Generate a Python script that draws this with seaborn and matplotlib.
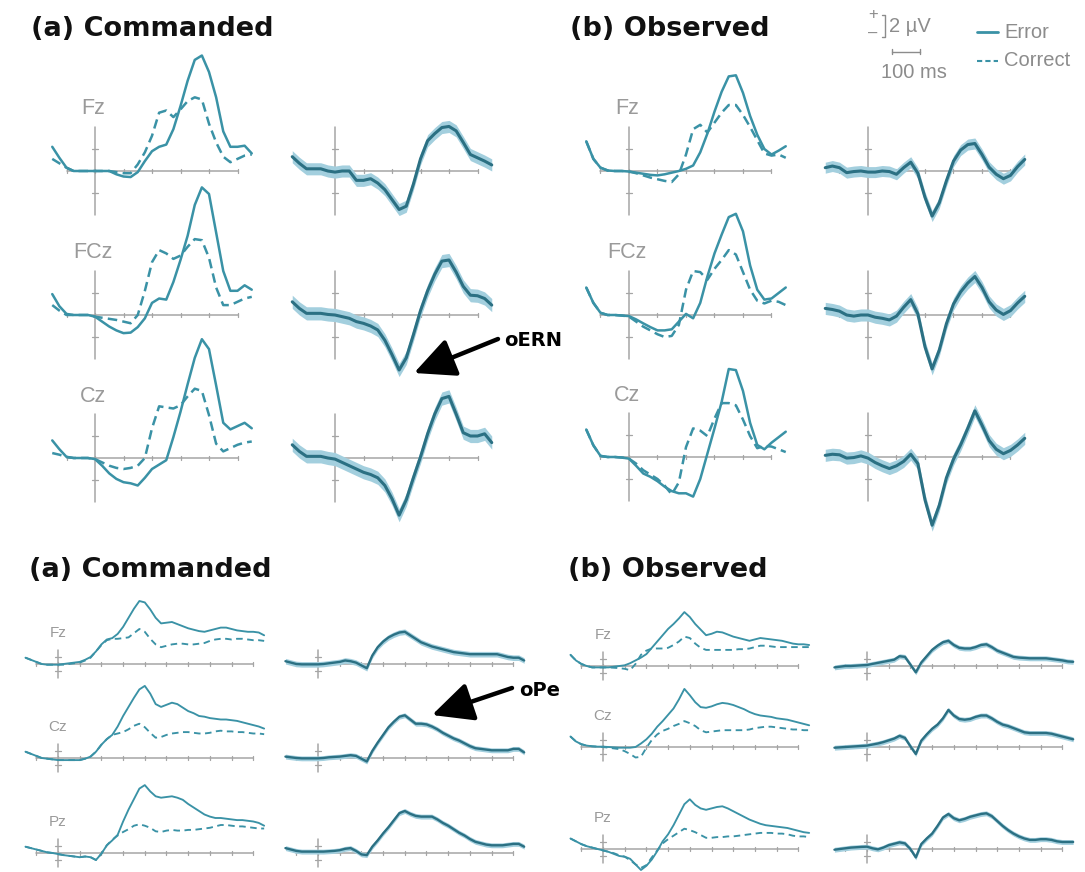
import matplotlib
matplotlib.use("Agg")
import matplotlib.pyplot as plt
from matplotlib.lines import Line2D
from matplotlib.patches import FancyArrowPatch
import pandas as pd
import seaborn as sns

# ---------------- data (uV) ----------------
# oERN study: time grid in ms
t_ern = [-150, -125, -100, -75, -50, -25, 0, 25, 50, 75, 100, 125, 150, 175, 200,
         225, 250, 275, 300, 325, 350, 375, 400, 425, 450, 475, 500, 525, 550]

cmd_fz_err = [2.2, 1.2, 0.3, 0.0, 0.0, 0.0, 0.0, 0.0, 0.0, -0.3, -0.5, -0.55, -0.1, 0.9, 1.8,
              2.2, 2.4, 3.8, 5.9, 8.2, 10.1, 10.5, 9.0, 6.7, 3.6, 2.2, 2.2, 2.3, 1.6]
cmd_fz_cor = [1.1, 0.7, 0.3, 0.0, 0.0, 0.0, 0.0, 0.0, 0.0, -0.1, -0.2, -0.2, 0.6, 1.7, 3.2,
              5.3, 5.5, 4.9, 5.6, 6.35, 6.7, 6.5, 4.3, 2.6, 1.3, 0.8, 1.1, 1.4, 1.5]
cmd_fz_diff = [1.3, 0.7, 0.2, 0.2, 0.2, 0.0, -0.1, 0.0, 0.0, -0.85, -0.85, -0.7, -1.1, -1.7, -2.6,
               -3.5, -3.2, -1.2, 1.1, 2.75, 3.4, 3.95, 4.05, 3.65, 2.6, 1.5, 1.2, 0.9, 0.55]
cmd_fcz_err = [1.9, 0.8, 0.1, 0.0, 0.0, 0.0, -0.15, -0.6, -1.05, -1.4, -1.65, -1.6, -1.1, -0.3, 1.1,
               1.5, 1.4, 3.0, 5.0, 7.2, 10.0, 11.6, 11.0, 7.5, 4.0, 2.2, 2.2, 2.7, 2.3]
cmd_fcz_cor = [0.9, 0.4, 0.0, 0.0, 0.0, 0.0, -0.15, -0.25, -0.35, -0.45, -0.6, -0.75, 0.0, 2.2, 4.8,
               5.9, 5.6, 5.1, 5.4, 6.2, 6.9, 6.8, 5.2, 2.5, 0.9, 0.9, 1.2, 1.5, 1.65]
cmd_fcz_diff = [1.2, 0.6, 0.15, 0.15, 0.15, 0.05, 0.0, -0.15, -0.3, -0.6, -0.76, -1.0, -1.36, -2.3, -3.6,
                -5.0, -3.9, -1.8, 0.4, 2.2, 3.7, 4.9, 5.0, 3.9, 2.6, 1.8, 1.75, 1.5, 0.9]
cmd_cz_err = [1.6, 0.8, 0.1, 0.0, 0.0, 0.0, -0.1, -0.7, -1.4, -1.9, -2.2, -2.3, -2.5, -1.8, -1.0,
              -0.6, -0.2, 1.9, 4.2, 6.7, 9.1, 10.8, 9.9, 6.6, 3.2, 2.6, 2.9, 3.2, 2.7]
cmd_cz_cor = [0.45, 0.3, 0.1, 0.0, 0.0, 0.0, -0.1, -0.4, -0.7, -0.9, -1.0, -0.9, -0.7, 0.0, 2.7,
              4.7, 4.6, 4.5, 4.8, 5.6, 6.3, 6.1, 3.9, 1.3, 0.6, 0.9, 1.2, 1.4, 1.5]
cmd_cz_diff = [1.2, 0.6, 0.15, 0.15, 0.15, 0.0, -0.1, -0.4, -0.7, -1.0, -1.3, -1.5, -1.8, -2.5, -3.7,
               -5.2, -3.8, -1.8, 0.1, 2.2, 4.0, 5.4, 5.6, 4.0, 2.3, 2.0, 2.0, 2.2, 1.4]

obs_fz_err = [2.7, 1.1, 0.3, 0.05, 0.0, 0.0, -0.05, -0.15, -0.25, -0.35, -0.4, -0.3, -0.15, 0.0, 0.2,
              0.5, 1.7, 3.4, 5.4, 7.2, 8.6, 8.7, 7.1, 5.0, 3.3, 2.0, 1.5, 1.85, 2.25]
obs_fz_cor = [2.7, 1.1, 0.3, 0.05, 0.0, 0.0, -0.05, -0.2, -0.4, -0.6, -0.75, -0.9, -1.0, -0.3, 1.5,
              3.8, 4.2, 3.5, 4.4, 5.3, 6.0, 6.0, 5.1, 4.0, 2.8, 1.6, 1.4, 1.5, 1.2]
obs_fz_diff = [0.3, 0.45, 0.3, -0.15, -0.05, 0.0, -0.1, -0.1, 0.0, -0.05, -0.3, 0.3, 0.8, -0.2, -2.4,
               -4.1, -2.9, -0.9, 0.9, 1.9, 2.4, 2.5, 1.5, 0.35, -0.3, -0.7, -0.4, 0.4, 1.05]
obs_fcz_err = [2.5, 1.1, 0.2, 0.0, 0.0, -0.05, -0.1, -0.4, -0.76, -1.1, -1.4, -1.4, -1.3, -0.6, 0.1,
               -0.3, 1.1, 3.5, 5.6, 7.3, 8.9, 9.2, 7.6, 4.5, 2.3, 1.4, 1.5, 2.0, 2.5]
obs_fcz_cor = [2.5, 1.1, 0.2, 0.0, 0.0, -0.05, -0.15, -0.6, -1.06, -1.4, -1.75, -2.0, -1.9, -0.9, 2.3,
               4.0, 3.9, 3.2, 4.2, 5.0, 5.9, 5.5, 3.9, 2.3, 1.3, 1.05, 1.3, 1.2, 0.9]
obs_fcz_diff = [0.6, 0.5, 0.35, 0.0, -0.1, 0.0, 0.0, -0.2, -0.3, -0.45, -0.1, 0.7, 1.4, 0.1, -2.9,
                -4.9, -3.2, -0.8, 1.0, 2.1, 2.9, 3.5, 2.5, 1.2, 0.45, 0.05, 0.4, 1.1, 1.7]
obs_cz_err = [2.5, 1.06, 0.1, 0.0, 0.0, -0.05, -0.15, -0.8, -1.5, -1.8, -2.2, -2.7, -3.1, -3.3, -3.3,
              -3.6, -2.0, 0.3, 2.6, 5.0, 8.0, 7.9, 6.0, 3.1, 1.1, 0.7, 1.3, 1.8, 2.3]
obs_cz_cor = [2.5, 1.06, 0.1, 0.0, 0.0, -0.05, -0.15, -0.6, -1.2, -1.6, -2.0, -2.6, -3.4, -2.3, 0.9,
              2.6, 2.4, 1.9, 3.5, 4.9, 4.9, 4.7, 3.4, 1.9, 0.8, 1.0, 0.95, 0.7, 0.45]
obs_cz_diff = [0.15, 0.25, 0.2, -0.1, -0.05, 0.1, -0.1, -0.5, -0.8, -1.05, -0.8, -0.4, 0.25, -0.6, -3.9,
               -6.2, -4.4, -1.9, -0.2, 1.1, 2.6, 4.2, 2.9, 1.5, 0.7, 0.3, 0.6, 1.1, 1.7]

# oPe study: time grid in ms
t_pe = [-150, -125, -100, -75, -50, -25, 0, 25, 50, 75, 100, 125, 150, 175, 200, 225, 250,
        275, 300, 325, 350, 375, 400, 425, 450, 475, 500, 525, 550, 575, 600, 625, 650,
        675, 700, 725, 750, 775, 800, 825, 850, 875, 900, 925, 950]

cmdpe_fz_err = [0.9, 0.6, 0.3, 0.0, -0.1, -0.1, -0.1, 0.0, 0.1, 0.2, 0.3, 0.6, 1.0, 1.8, 2.8, 3.5, 3.7,
                4.3, 5.3, 6.6, 7.9, 9.0, 8.8, 7.8, 6.6, 5.8, 5.9, 6.0, 5.7, 5.4, 5.1, 4.9, 4.7,
                4.6, 4.8, 5.0, 5.2, 5.2, 5.0, 4.8, 4.7, 4.6, 4.6, 4.5, 4.1]
cmdpe_fz_cor = [0.9, 0.6, 0.3, 0.0, -0.1, -0.1, -0.1, -0.1, 0.0, 0.1, 0.2, 0.5, 0.9, 1.8, 2.7, 3.4, 3.6,
                3.6, 3.7, 3.8, 4.4, 5.0, 4.6, 3.6, 2.8, 2.4, 2.6, 2.8, 2.9, 2.9, 2.8, 2.8, 2.9,
                3.0, 3.3, 3.5, 3.6, 3.6, 3.5, 3.6, 3.6, 3.5, 3.4, 3.4, 3.3]
cmdpe_fz_diff = [0.4, 0.2, 0.0, -0.05, -0.05, -0.05, -0.05, 0.0, 0.1, 0.2, 0.3, 0.5, 0.4, 0.2, -0.2, -0.6, 1.2,
                 2.4, 3.2, 3.8, 4.2, 4.5, 4.6, 4.1, 3.6, 3.1, 2.8, 2.5, 2.3, 2.1, 1.9, 1.7, 1.6,
                 1.5, 1.4, 1.4, 1.4, 1.4, 1.4, 1.4, 1.2, 1.0, 0.9, 0.9, 0.5]
cmdpe_cz_err = [0.9, 0.6, 0.3, 0.0, -0.1, -0.2, -0.3, -0.3, -0.3, -0.3, -0.3, -0.1, 0.2, 0.9, 1.9, 2.7, 3.3,
                4.5, 6.0, 7.3, 8.6, 9.8, 10.3, 9.2, 7.7, 7.3, 7.6, 7.9, 7.7, 7.2, 6.7, 6.4, 6.0,
                5.9, 5.7, 5.6, 5.5, 5.5, 5.4, 5.3, 5.1, 4.9, 4.7, 4.5, 4.2]
cmdpe_cz_cor = [0.9, 0.6, 0.3, 0.0, -0.1, -0.2, -0.3, -0.3, -0.3, -0.3, -0.3, -0.1, 0.2, 0.9, 1.9, 2.7, 3.3,
                3.5, 3.7, 4.1, 4.6, 4.9, 4.4, 3.6, 2.9, 3.0, 3.3, 3.5, 3.6, 3.7, 3.7, 3.6, 3.5,
                3.5, 3.6, 3.8, 3.9, 3.8, 3.8, 3.7, 3.7, 3.6, 3.5, 3.5, 3.4]
cmdpe_cz_diff = [0.2, 0.1, 0.0, -0.05, -0.05, -0.05, -0.05, 0.0, 0.1, 0.15, 0.2, 0.3, 0.4, 0.3, -0.1, -0.5, 1.0,
                 2.2, 3.3, 4.4, 5.2, 5.9, 6.1, 5.5, 4.9, 4.9, 4.8, 4.5, 4.1, 3.6, 3.2, 2.8, 2.5,
                 2.1, 1.7, 1.4, 1.3, 1.2, 1.1, 1.1, 1.1, 1.1, 1.3, 1.3, 0.8]
cmdpe_pz_err = [0.9, 0.7, 0.5, 0.3, 0.1, 0.0, -0.15, -0.3, -0.4, -0.5, -0.6, -0.5, -0.6, -1.0, -0.1, 1.1, 1.8,
                2.6, 4.5, 6.2, 7.7, 9.2, 9.7, 8.8, 8.1, 7.9, 8.0, 8.1, 7.9, 7.6, 7.0, 6.5, 6.0,
                5.5, 5.2, 5.0, 5.0, 4.9, 4.8, 4.7, 4.7, 4.6, 4.5, 4.3, 3.9]
cmdpe_pz_cor = [0.9, 0.7, 0.5, 0.3, 0.1, 0.0, -0.15, -0.3, -0.4, -0.5, -0.6, -0.5, -0.6, -1.0, -0.1, 1.1, 1.9,
                2.5, 3.0, 3.4, 3.9, 4.1, 3.9, 3.6, 3.1, 3.0, 3.2, 3.3, 3.2, 3.2, 3.3, 3.3, 3.4,
                3.5, 3.6, 3.8, 4.0, 4.0, 3.9, 3.8, 3.8, 3.7, 3.6, 3.5, 3.5]
cmdpe_pz_diff = [0.7, 0.5, 0.3, 0.2, 0.2, 0.2, 0.2, 0.2, 0.25, 0.3, 0.4, 0.6, 0.7, 0.3, -0.2, -0.3, 0.9,
                 1.8, 2.8, 3.7, 4.7, 5.7, 6.0, 5.6, 5.3, 5.2, 5.2, 5.2, 4.8, 4.3, 3.9, 3.4, 2.9,
                 2.5, 2.0, 1.6, 1.4, 1.2, 1.1, 1.1, 1.1, 1.2, 1.3, 1.3, 0.9]

obspe_fz_err = [1.6, 0.8, 0.3, 0.0, -0.2, -0.2, -0.2, -0.2, -0.1, 0.0, 0.1, 0.4, 0.8, 1.2, 1.7, 2.6, 3.5,
                4.4, 5.3, 6.0, 6.8, 7.7, 7.0, 6.0, 5.2, 4.4, 4.6, 4.9, 4.8, 4.5, 4.2, 4.0, 3.8,
                3.6, 3.8, 4.0, 3.9, 3.8, 3.7, 3.6, 3.4, 3.2, 3.1, 3.1, 3.0]
obspe_fz_cor = [1.6, 0.8, 0.3, 0.0, -0.2, -0.2, -0.2, -0.2, -0.25, -0.3, -0.4, -0.6, 0.3, 1.6, 2.2, 2.5, 2.5,
                2.5, 2.6, 3.0, 3.5, 4.2, 4.0, 3.2, 2.6, 2.3, 2.3, 2.3, 2.3, 2.3, 2.3, 2.4, 2.4,
                2.5, 2.7, 2.9, 2.9, 2.8, 2.7, 2.7, 2.7, 2.7, 2.7, 2.7, 2.7]
obspe_fz_diff = [-0.2, -0.1, 0.0, 0.0, 0.05, 0.1, 0.14, 0.3, 0.45, 0.6, 0.75, 0.9, 1.4, 1.3, 0.2, -0.9, 0.5,
                 1.4, 2.3, 2.9, 3.4, 3.6, 3.0, 2.6, 2.5, 2.5, 2.7, 3.0, 3.1, 2.7, 2.2, 1.9, 1.6,
                 1.3, 1.2, 1.15, 1.1, 1.1, 1.1, 1.1, 1.0, 0.9, 0.8, 0.65, 0.6]
obspe_cz_err = [1.5, 0.8, 0.4, 0.2, 0.1, 0.05, 0.05, 0.0, -0.05, -0.1, -0.1, -0.1, 0.0, 0.5, 1.1, 1.9, 2.9,
                3.7, 4.6, 5.5, 6.8, 8.3, 7.4, 6.4, 5.7, 5.6, 5.8, 6.1, 6.3, 6.2, 6.0, 5.7, 5.4,
                5.0, 4.7, 4.5, 4.4, 4.3, 4.1, 4.0, 3.9, 3.7, 3.5, 3.3, 3.1]
obspe_cz_cor = [1.5, 0.8, 0.4, 0.2, 0.1, 0.05, 0.0, -0.1, -0.2, -0.3, -0.6, -1.0, -1.5, -1.4, -0.1, 1.0, 1.8,
                2.3, 2.6, 3.0, 3.3, 3.7, 3.4, 3.0, 2.4, 2.1, 2.2, 2.3, 2.4, 2.4, 2.4, 2.4, 2.4,
                2.5, 2.7, 2.8, 2.9, 2.9, 2.8, 2.7, 2.6, 2.5, 2.5, 2.4, 2.4]
obspe_cz_diff = [-0.1, -0.05, 0.0, 0.05, 0.1, 0.15, 0.2, 0.35, 0.5, 0.7, 0.95, 1.2, 1.6, 1.3, 0.1, -1.0, 0.9,
                 1.8, 2.6, 3.2, 4.1, 5.3, 4.5, 4.0, 3.9, 4.0, 4.3, 4.5, 4.5, 4.1, 3.6, 3.2, 3.0,
                 2.7, 2.4, 2.1, 2.0, 2.0, 2.0, 2.0, 1.9, 1.7, 1.5, 1.3, 1.1]
obspe_pz_err = [1.5, 1.1, 0.7, 0.4, 0.2, 0.0, -0.2, -0.4, -0.7, -1.0, -1.1, -1.4, -2.2, -3.0, -2.4, -1.5, -0.3,
                1.1, 2.1, 3.4, 4.9, 6.4, 7.1, 6.3, 5.8, 5.6, 5.8, 6.0, 6.1, 5.8, 5.4, 5.0, 4.6,
                4.2, 3.9, 3.6, 3.4, 3.3, 3.2, 3.1, 3.0, 2.8, 2.6, 2.4, 2.3]
obspe_pz_cor = [1.5, 1.1, 0.7, 0.4, 0.2, 0.0, -0.2, -0.4, -0.6, -0.9, -1.1, -1.6, -2.2, -2.7, -2.3, -1.2, -0.2,
                0.8, 1.4, 1.9, 2.4, 2.9, 2.7, 2.4, 2.0, 1.6, 1.6, 1.7, 1.7, 1.8, 1.8, 1.9, 2.0,
                2.1, 2.2, 2.3, 2.3, 2.3, 2.2, 2.2, 2.1, 1.9, 1.8, 1.8, 1.7]
obspe_pz_diff = [-0.1, 0.0, 0.1, 0.2, 0.25, 0.3, 0.33, 0.1, -0.05, 0.2, 0.55, 0.75, 0.95, 0.8, 0.0, -1.2, 0.7,
                 1.5, 2.2, 3.3, 4.5, 5.0, 4.4, 4.1, 4.3, 4.6, 4.8, 5.0, 5.1, 4.7, 4.0, 3.3, 2.7,
                 2.2, 1.8, 1.5, 1.3, 1.3, 1.4, 1.4, 1.3, 1.1, 1.0, 1.0, 1.0]

ern_sites = ["Fz", "FCz", "Cz"]
pe_sites = ["Fz", "Cz", "Pz"]
ci_ern = [0.55, 0.6, 0.6, 0.5, 0.55, 0.55]   # half width of shaded band, uV
ci_pe = [0.4, 0.35, 0.35, 0.35, 0.35, 0.35]

# ---------------- style ----------------
sns.set_style("white")
plt.rcParams["font.family"] = ["Liberation Sans", "DejaVu Sans"]

W, H = 1085, 872
TEAL = "#3a92a6"
DARK = "#2b7083"
BAND = "#a3cfde"
AXIS = "#a5a5a5"
GREY = "#9a9a9a"

fig = plt.figure(figsize=(W / 100, H / 100), dpi=100)
fig.patch.set_facecolor("white")


def fx(x):
    return x / W


def fy(y):
    return 1 - y / H


def new_ax(x0, y0, sx, sy, tlim, vlim):
    # x0, y0: pixel position of (0 ms, 0 uV); sx px/ms, sy px/uV
    left = x0 + tlim[0] * sx
    bottom = y0 - vlim[0] * sy
    ax = fig.add_axes([fx(left), fy(bottom), (tlim[1] - tlim[0]) * sx / W,
                       (vlim[1] - vlim[0]) * sy / H])
    ax.set_xlim(*tlim)
    ax.set_ylim(*vlim)
    ax.axis("off")
    return ax


def draw_frame(ax, sx, sy, xticks, vext, vtick):
    tv = 2.3 / sy
    tt = 2.6 / sx
    ax.plot([xticks[0], xticks[-1]], [0, 0], color=AXIS, lw=1.1, zorder=1)
    for t in xticks:
        ax.plot([t, t], [-tv, tv], color=AXIS, lw=0.9, zorder=1)
    ax.plot([0, 0], [-vext, vext], color=AXIS, lw=1.1, zorder=1)
    for v in (-vtick, vtick):
        ax.plot([-tt, tt], [v, v], color=AXIS, lw=0.9, zorder=1)


def erp_panel(x0, y0, sx, sy, tlim, vlim, t, err, cor, frame, lw, dash):
    ax = new_ax(x0, y0, sx, sy, tlim, vlim)
    draw_frame(ax, sx, sy, *frame)
    df = pd.DataFrame({"time": t + t, "uV": err + cor,
                       "cond": ["Error"] * len(t) + ["Correct"] * len(t)})
    sns.lineplot(data=df, x="time", y="uV", style="cond", style_order=["Error", "Correct"],
                 dashes={"Error": "", "Correct": dash}, color=TEAL, lw=lw,
                 estimator=None, legend=False, ax=ax, zorder=3)
    return ax


def diff_panel(x0, y0, sx, sy, tlim, vlim, t, d, ci, frame, lw):
    ax = new_ax(x0, y0, sx, sy, tlim, vlim)
    draw_frame(ax, sx, sy, *frame)
    ax.fill_between(t, [v - ci for v in d], [v + ci for v in d], color=BAND, lw=0, zorder=2)
    sns.lineplot(x=t, y=d, color=DARK, lw=lw, estimator=None, ax=ax, zorder=3)
    return ax


# ---------------- oERN (top) ----------------
SX1, SY1 = 0.285, 11.0
TL1, VL1 = (-170, 570), (-8, 13)
FR1 = ([-100, 0, 100, 200, 300, 400, 500], 4, 2)
ern_cmd = [(cmd_fz_err, cmd_fz_cor, cmd_fz_diff),
           (cmd_fcz_err, cmd_fcz_cor, cmd_fcz_diff),
           (cmd_cz_err, cmd_cz_cor, cmd_cz_diff)]
ern_obs = [(obs_fz_err, obs_fz_cor, obs_fz_diff),
           (obs_fcz_err, obs_fcz_cor, obs_fcz_diff),
           (obs_cz_err, obs_cz_cor, obs_cz_diff)]
ern_y = [[171, 315, 458], [171, 315, 457]]
ern_x = [(95, 335), (629, 868)]

for k, group in enumerate([ern_cmd, ern_obs]):
    xe, xd = ern_x[k]
    for i, (err, cor, dif) in enumerate(group):
        y0 = ern_y[k][i]
        erp_panel(xe, y0, SX1, SY1, TL1, VL1, t_ern, err, cor, FR1, 1.8, (3.8, 2.1))
        diff_panel(xd, y0, SX1, SY1, TL1, VL1, t_ern, dif, ci_ern[3 * k + i], FR1, 2.2)
        fig.text(fx(xe - 2), fy(y0 - 62), ern_sites[i], color=GREY, fontsize=15.5,
                 ha="center", va="center")

# ---------------- oPe (bottom) ----------------
SX2, SY2 = 0.217, 7.0
TL2, VL2 = (-170, 990), (-5, 12)
FR2 = ([-100, 0, 100, 200, 300, 400, 500, 600, 700, 800, 900], 2, 1)
pe_cmd = [(cmdpe_fz_err, cmdpe_fz_cor, cmdpe_fz_diff),
          (cmdpe_cz_err, cmdpe_cz_cor, cmdpe_cz_diff),
          (cmdpe_pz_err, cmdpe_pz_cor, cmdpe_pz_diff)]
pe_obs = [(obspe_fz_err, obspe_fz_cor, obspe_fz_diff),
          (obspe_cz_err, obspe_cz_cor, obspe_cz_diff),
          (obspe_pz_err, obspe_pz_cor, obspe_pz_diff)]
pe_y = [[664, 758, 853], [666, 747, 849]]
pe_x = [(58, 318), (603, 867)]

for k, group in enumerate([pe_cmd, pe_obs]):
    xe, xd = pe_x[k]
    for i, (err, cor, dif) in enumerate(group):
        y0 = pe_y[k][i]
        erp_panel(xe, y0, SX2, SY2, TL2, VL2, t_pe, err, cor, FR2, 1.35, (3.5, 2.4))
        diff_panel(xd, y0, SX2, SY2, TL2, VL2, t_pe, dif, ci_pe[3 * k + i], FR2, 1.7)
        fig.text(fx(xe), fy(y0 - 31), pe_sites[i], color=GREY, fontsize=11,
                 ha="center", va="center")

# ---------------- titles ----------------
for x, y, s in [(31, 36, "(a) Commanded"), (570, 36, "(b) Observed"),
                (29, 577, "(a) Commanded"), (568, 577, "(b) Observed")]:
    fig.text(fx(x), fy(y), s, fontsize=19.5, fontweight="bold", family="DejaVu Sans",
             va="baseline", ha="left", color="#111111")

# ---------------- arrows ----------------
for (xa, ya), (xb, yb), (xt, yt), s in [((498, 339), (414, 373), (504, 341), "oERN"),
                                         ((512, 688), (432, 715), (519, 690), "oPe")]:
    fig.add_artist(FancyArrowPatch((fx(xa), fy(ya)), (fx(xb), fy(yb)),
                                   transform=fig.transFigure,
                                   arrowstyle="-|>,head_length=1.25,head_width=0.6",
                                   mutation_scale=20, lw=3.2, color="black",
                                   shrinkA=0, shrinkB=0))
    fig.text(fx(xt), fy(yt), s, fontsize=14, fontweight="bold", family="DejaVu Sans",
             va="center", ha="left", color="black")

# ---------------- scale bar and legend ----------------
LG = "#8c8c8c"
fig.text(fx(873), fy(15), "+", color=LG, fontsize=12, ha="center", va="center")
fig.text(fx(873), fy(33), "–", color=LG, fontsize=12, ha="center", va="center")
fig.add_artist(Line2D([fx(882), fx(885), fx(885), fx(882)],
                      [fy(15), fy(15), fy(37), fy(37)], color=LG, lw=1.0))
fig.text(fx(889), fy(26), "2 µV", color=LG, fontsize=14.5, ha="left", va="center")
fig.add_artist(Line2D([fx(892), fx(920)], [fy(52), fy(52)], color=LG, lw=1.0))
for xb in (892, 920):
    fig.add_artist(Line2D([fx(xb), fx(xb)], [fy(49.5), fy(54.5)], color=LG, lw=1.0))
fig.text(fx(914), fy(73), "100 ms", color=LG, fontsize=14.5, ha="center", va="center")
fig.add_artist(Line2D([fx(977), fx(998)], [fy(32), fy(32)], color=TEAL, lw=2.0))
fig.add_artist(Line2D([fx(977), fx(998)], [fy(61), fy(61)], color=TEAL, lw=1.5,
                      dashes=(2.5, 1.5)))
fig.text(fx(1004), fy(32), "Error", color=LG, fontsize=14.5, ha="left", va="center")
fig.text(fx(1004), fy(61), "Correct", color=LG, fontsize=14.5, ha="left", va="center")

fig.savefig("out.png", dpi=100, facecolor="white")
